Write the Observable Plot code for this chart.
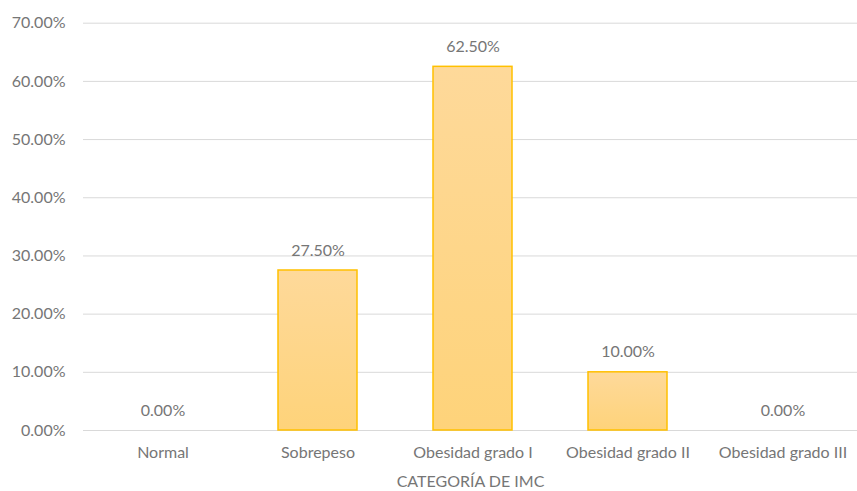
<!DOCTYPE html>
<html>
<head>
<meta charset="utf-8">
<script src="https://cdn.jsdelivr.net/npm/d3@7"></script>
<script src="https://cdn.jsdelivr.net/npm/@observablehq/plot@0.6"></script>
<style>
  html, body { margin: 0; padding: 0; background: #fff; }
  #chart svg { display: block; }
</style>
</head>
<body>
<div id="chart"></div>
<script>
// IMC categories and the share of patients in each one
const categories = ["Normal", "Sobrepeso", "Obesidad grado I", "Obesidad grado II", "Obesidad grado III"];
const shares = [0.0, 0.275, 0.625, 0.10, 0.0];
const yTicks = [0, 0.1, 0.2, 0.3, 0.4, 0.5, 0.6, 0.7];

const data = categories.map((c, i) => ({category: c, share: shares[i]}));
const pct = d3.format(".2%");

const font = "Lato, 'Open Sans', sans-serif";
const grey = "#767676";

const chart = Plot.plot({
  width: 857,
  height: 491,
  marginTop: 22,
  marginBottom: 61,
  marginLeft: 83,
  marginRight: 0,
  style: {fontFamily: font, fontSize: "16px", color: grey, background: "#fff"},
  x: {domain: categories, range: [83, 862], paddingInner: 0.49, paddingOuter: 0.245},
  y: {domain: [0, 0.7], range: [430, 22.7]},
  marks: [
    Plot.gridY(yTicks, {stroke: "#d9d9d9", strokeOpacity: 1, strokeWidth: 1}),
    Plot.axisY(yTicks, {tickSize: 0, tickPadding: 18, tickFormat: pct, label: null, fill: grey, fontSize: 16}),
    Plot.axisX({tickSize: 0, tickPadding: 16, label: "CATEGORÍA DE IMC", labelAnchor: "center", labelOffset: 56, fill: grey, fontSize: 16}),
    Plot.barY(data, {
      filter: d => d.share > 0,
      x: "category", y: "share",
      fill: "url(#barGradient)", stroke: "#ffc000", strokeWidth: 1.5
    }),
    Plot.text(data, {x: "category", y: "share", text: d => pct(d.share), dy: -20, fill: grey, fontSize: 16})
  ]
});

// vertical gradient used by the bars
const svg = d3.select(chart);
const grad = svg.insert("defs", ":first-child")
  .append("linearGradient")
  .attr("id", "barGradient")
  .attr("x1", 0).attr("y1", 0).attr("x2", 0).attr("y2", 1);
grad.append("stop").attr("offset", "0%").attr("stop-color", "#fed99a");
grad.append("stop").attr("offset", "100%").attr("stop-color", "#fed37a");

document.getElementById("chart").append(chart);
</script>
</body>
</html>
